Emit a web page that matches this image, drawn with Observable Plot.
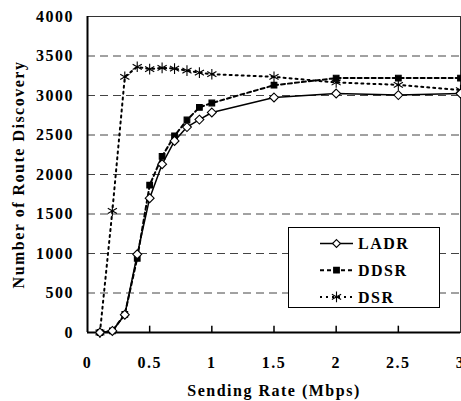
<!DOCTYPE html>
<html>
<head>
<meta charset="utf-8">
<script src="https://cdn.jsdelivr.net/npm/d3@7"></script>
<script src="https://cdn.jsdelivr.net/npm/@observablehq/plot@0.6"></script>
<style>
  html, body { margin: 0; padding: 0; background: #fff; }
  #chart { width: 461px; height: 401px; }
  #chart svg text { font-family: "Liberation Serif", "Times New Roman", serif !important; font-weight: bold !important; letter-spacing: 1.5px; }
</style>
</head>
<body>
<div id="chart"></div>
<script>
const rates = [0.1, 0.2, 0.3, 0.4, 0.5, 0.6, 0.7, 0.8, 0.9, 1.0, 1.5, 2.0, 2.5, 3.0];
const ladr  = [0, 20, 225, 990, 1700, 2130, 2425, 2600, 2695, 2785, 2975, 3025, 3005, 3025];
const ddsr  = [0, 20, 230, 940, 1865, 2230, 2490, 2690, 2850, 2905, 3130, 3220, 3220, 3220];
const dsr   = [0, 1540, 3236, 3363, 3334, 3350, 3340, 3315, 3290, 3270, 3236, 3165, 3135, 3068];
const seriesNames = ["LADR", "DDSR", "DSR"];
const xTicks = [0, 0.5, 1, 1.5, 2, 2.5, 3];
const yTicks = [0, 500, 1000, 1500, 2000, 2500, 3000, 3500, 4000];
const gridTicks = [500, 1000, 1500, 2000, 2500, 3000, 3500];
const xInnerTicks = [0.5, 1, 1.5, 2, 2.5];

const styles = {
  LADR: {dash: null, width: 1.5, symbol: "diamond2", fill: "white", r: 4},
  DDSR: {dash: "4,3", width: 2, symbol: "square", fill: "black", r: 3.2},
  DSR:  {dash: "2,4", width: 2, symbol: "asterisk", fill: "none", r: 5}
};
const values = {LADR: ladr, DDSR: ddsr, DSR: dsr};
const table = seriesNames.flatMap(s => rates.map((x, i) => ({series: s, x, y: values[s][i]})));

const font = "'Liberation Serif', 'Times New Roman', serif";
const marks = [
  Plot.gridY(gridTicks, {stroke: "#444", strokeOpacity: 1, strokeDasharray: "8,5"}),
  Plot.frame({stroke: "#333", strokeWidth: 1}),
  Plot.ruleX(xInnerTicks, {y1: 0, y2: 80, stroke: "black", strokeWidth: 1.5}),
  Plot.ruleY([0], {stroke: "black", strokeWidth: 2}),
  Plot.ruleX([0], {stroke: "black", strokeWidth: 2}),
];
for (const s of ["DSR", "DDSR", "LADR"]) {
  const st = styles[s];
  const data = table.filter(d => d.series === s);
  marks.push(Plot.line(data, {x: "x", y: "y", stroke: "black", strokeWidth: st.width, strokeDasharray: st.dash}));
  marks.push(Plot.dot(data, {x: "x", y: "y", symbol: () => st.symbol, r: st.r, stroke: "black", strokeWidth: 1.1,
    fill: st.fill}));
}
marks.push(
  Plot.axisY({ticks: yTicks, tickSize: 0, tickPadding: 13.5, tickFormat: d => String(d), label: "Number of Route Discovery", labelAnchor: "center", labelOffset: 75, labelArrow: "none"}),
  Plot.axisX({ticks: xTicks, tickSize: 0, tickPadding: 24, tickFormat: d => String(d), label: "Sending Rate (Mbps)", labelAnchor: "center", labelOffset: 63, labelArrow: "none"})
);

const chart = Plot.plot({
  width: 461,
  height: 401,
  marginLeft: 87,
  marginRight: 1,
  marginTop: 16,
  marginBottom: 69,
  x: {domain: [0, 3]},
  y: {domain: [0, 4000]},
  style: {fontFamily: font, fontSize: "16px", fontWeight: "bold", color: "black", background: "white", overflow: "visible"},
  marks
});
document.getElementById("chart").appendChild(chart);

// Legend
const svg = d3.select(chart);
const lg = svg.append("g").attr("font-size", 16).attr("text-anchor", "start");
lg.append("rect").attr("x", 288.5).attr("y", 227.5).attr("width", 151).attr("height", 80)
  .attr("fill", "white").attr("stroke", "black").attr("stroke-width", 1);
seriesNames.forEach((s, i) => {
  const st = styles[s];
  const cy = 243.5 + i * 26.7;
  lg.append("line").attr("x1", 320).attr("x2", 353).attr("y1", cy).attr("y2", cy)
    .attr("stroke", "black").attr("stroke-width", st.width).attr("stroke-dasharray", st.dash);
  let path;
  if (st.symbol === "diamond2") path = d3.symbol(d3.symbolDiamond2, 40)();
  else if (st.symbol === "square") path = d3.symbol(d3.symbolSquare, 32)();
  else path = d3.symbol(d3.symbolAsterisk, 80)();
  lg.append("path").attr("d", path).attr("transform", `translate(336.5,${cy})`)
    .attr("fill", st.fill).attr("stroke", "black").attr("stroke-width", 1.1);
  lg.append("text").attr("x", 358).attr("y", cy).attr("dy", "0.35em").attr("text-anchor", "start").text(s);
});
</script>
</body>
</html>
